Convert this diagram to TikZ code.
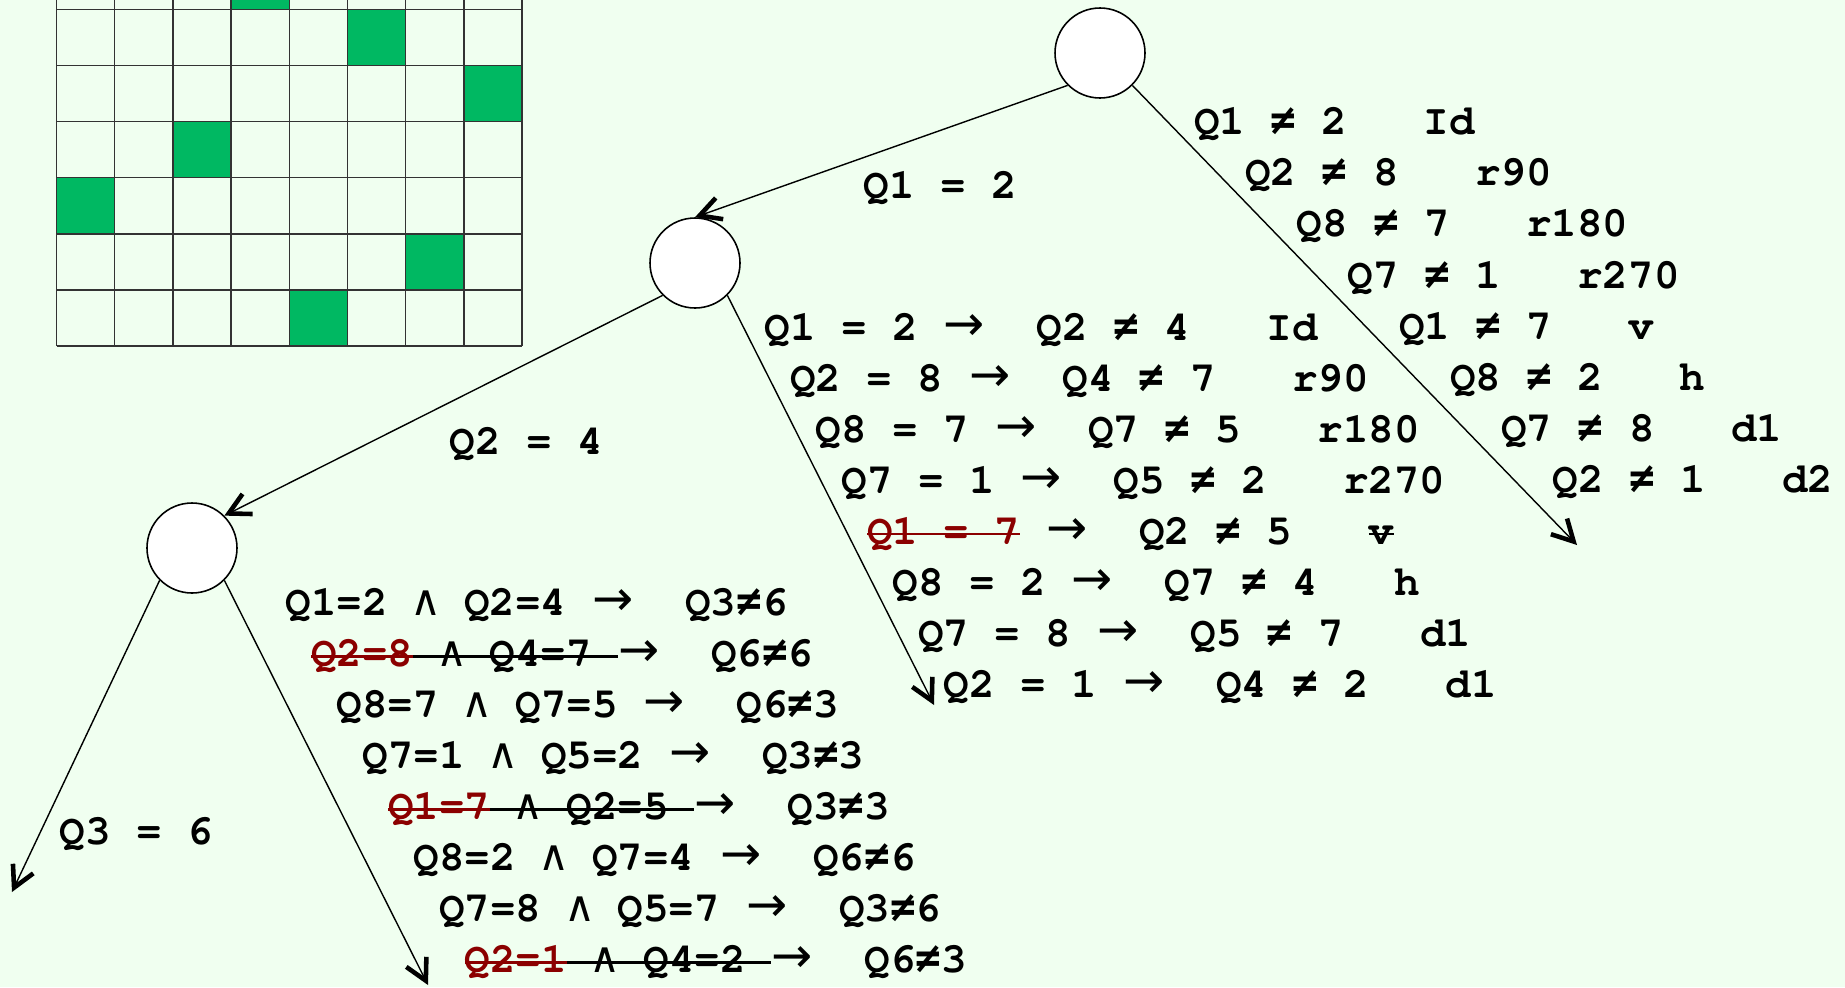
\documentclass[tikz,border=0pt]{standalone}
\usepackage{fontspec}
\usepackage[T1,TU]{fontenc}
\usetikzlibrary{arrows.meta}
\newfontfamily\symbfont{DejaVu Sans}
\newfontfamily\symbmono{DejaVu Sans Mono}
\definecolor{QBack}{HTML}{F0FFF0}
\definecolor{QGreen}{HTML}{00B862}
\definecolor{QRed}{HTML}{8B0000}
\newcommand\qfont{\fontencoding{T1}\fontfamily{pcr}\fontseries{b}\fontsize{12.1pt}{14pt}\selectfont}
\newcommand\qto{\makebox[1em]{\symbfont\mdseries\fontsize{14pt}{14pt}\selectfont →}}
\newcommand\qand{\makebox[0.6em]{\symbfont\mdseries ∧}}
\newcommand\qne{\makebox[0.6em]{\symbmono\bfseries ≠}}
\newcommand\qstrike[1]{\setbox0=\hbox{#1}\rlap{\rule[0.21em]{\wd0}{0.7pt}}\box0}
\newcommand\qcut[1]{{\color{QRed}\qstrike{#1}}}

\begin{document}
\begin{tikzpicture}[
    state/.style={
      circle,
      draw=black,
      fill=white,
      line width=0.45pt,
      minimum size=0.9cm,
      inner sep=0pt
    },
    edge/.style={
      -{Straight Barb[length=6pt,width=6.4pt,line width=1.3pt]},
      line width=0.4pt
    },
    qtext/.style={
      font=\qfont,
      anchor=base west,
      inner sep=0pt
    },
    gridline/.style={
      line width=0.45pt,
      draw=black!80
    }
  ]

  % Background
  \fill[QBack] (0,0) rectangle (18.45,-9.87);
  \useasboundingbox (0,0) rectangle (18.45,-9.87);

  % Board
  \begin{scope}
    \clip (0,0) rectangle (18.45,-9.87);
    \foreach \col/\row in {4/0,6/1,0/2,2/3,7/4,5/5,3/6,1/7}
      \fill[QGreen] ({0.565+\col*0.582},{-3.46+\row*0.561}) rectangle ++(0.582,0.561);
    \draw[gridline,xstep=0.582,ystep=0.561,shift={(0.565,-3.46)}] (0,0) grid (4.657,4.489);
  \end{scope}

  % Tree nodes
  \node[state] (root) at (11.00,-0.53) {};
  \node[state] (mid) at (6.95,-2.63) {};
  \node[state] (left) at (1.92,-5.48) {};

  % Free ends
  \coordinate (rootEnd) at (15.77,-5.45);
  \coordinate (midEnd) at (9.34,-7.05);
  \coordinate (leftEndA) at (0.12,-8.92);
  \coordinate (leftEndB) at (4.28,-9.85);

  % Branches
  \draw[edge] (root.south west) -- (mid.north);
  \draw[edge] (root.south east) -- (rootEnd);
  \draw[edge] (mid.south west) -- (left.north east);
  \draw[edge] (mid.south east) -- (midEnd);
  \draw[edge] (left.south west) -- (leftEndA);
  \draw[edge] (left.south east) -- (leftEndB);

  % Branch labels
  \node[qtext] (labA) at (8.63,-1.98) {Q1~=~2};
  \node[qtext] (labB) at (4.49,-4.54) {Q2~=~4};
  \node[qtext] (labC) at (0.59,-8.44) {Q3~=~6};

  % Symmetries at the root
  \node[qtext] (r1) at (11.935,-1.344) {Q1~\qne~2~~~Id};
  \node[qtext] (r2) at (12.447,-1.856) {Q2~\qne~8~~~r90};
  \node[qtext] (r3) at (12.959,-2.368) {Q8~\qne~7~~~r180};
  \node[qtext] (r4) at (13.471,-2.880) {Q7~\qne~1~~~r270};
  \node[qtext] (r5) at (13.983,-3.392) {Q1~\qne~7~~~v};
  \node[qtext] (r6) at (14.495,-3.904) {Q8~\qne~2~~~h};
  \node[qtext] (r7) at (15.007,-4.416) {Q7~\qne~8~~~d1};
  \node[qtext] (r8) at (15.519,-4.928) {Q2~\qne~1~~~d2};

  % Symmetries after Q1 = 2
  \node[qtext] (m1) at (7.640,-3.40) {Q1~=~2~\qto~~Q2~\qne~4~~~Id};
  \node[qtext] (m2) at (7.896,-3.91) {Q2~=~8~\qto~~Q4~\qne~7~~~r90};
  \node[qtext] (m3) at (8.152,-4.42) {Q8~=~7~\qto~~Q7~\qne~5~~~r180};
  \node[qtext] (m4) at (8.408,-4.93) {Q7~=~1~\qto~~Q5~\qne~2~~~r270};
  \node[qtext] (m5) at (8.664,-5.44) {\qcut{Q1~=~7}~\qto~~Q2~\qne~5~~~\qstrike{v}};
  \node[qtext] (m6) at (8.920,-5.95) {Q8~=~2~\qto~~Q7~\qne~4~~~h};
  \node[qtext] (m7) at (9.176,-6.46) {Q7~=~8~\qto~~Q5~\qne~7~~~d1};
  \node[qtext] (m8) at (9.432,-6.97) {Q2~=~1~\qto~~Q4~\qne~2~~~d1};

  % Symmetries after Q2 = 4
  \node[qtext] (l1) at (2.850,-6.156) {Q1=2~\qand~Q2=4~\qto~~Q3\qne6};
  \node[qtext] (l2) at (3.106,-6.666) {\qcut{Q2=8}\qstrike{~\qand~Q4=7~}\qto~~Q6\qne6};
  \node[qtext] (l3) at (3.362,-7.176) {Q8=7~\qand~Q7=5~\qto~~Q6\qne3};
  \node[qtext] (l4) at (3.618,-7.686) {Q7=1~\qand~Q5=2~\qto~~Q3\qne3};
  \node[qtext] (l5) at (3.874,-8.196) {\qcut{Q1=7}\qstrike{~\qand~Q2=5~}\qto~~Q3\qne3};
  \node[qtext] (l6) at (4.130,-8.706) {Q8=2~\qand~Q7=4~\qto~~Q6\qne6};
  \node[qtext] (l7) at (4.386,-9.216) {Q7=8~\qand~Q5=7~\qto~~Q3\qne6};
  \node[qtext] (l8) at (4.642,-9.726) {\qcut{Q2=1}\qstrike{~\qand~Q4=2~}\qto~~Q6\qne3};
\end{tikzpicture}
\end{document}
